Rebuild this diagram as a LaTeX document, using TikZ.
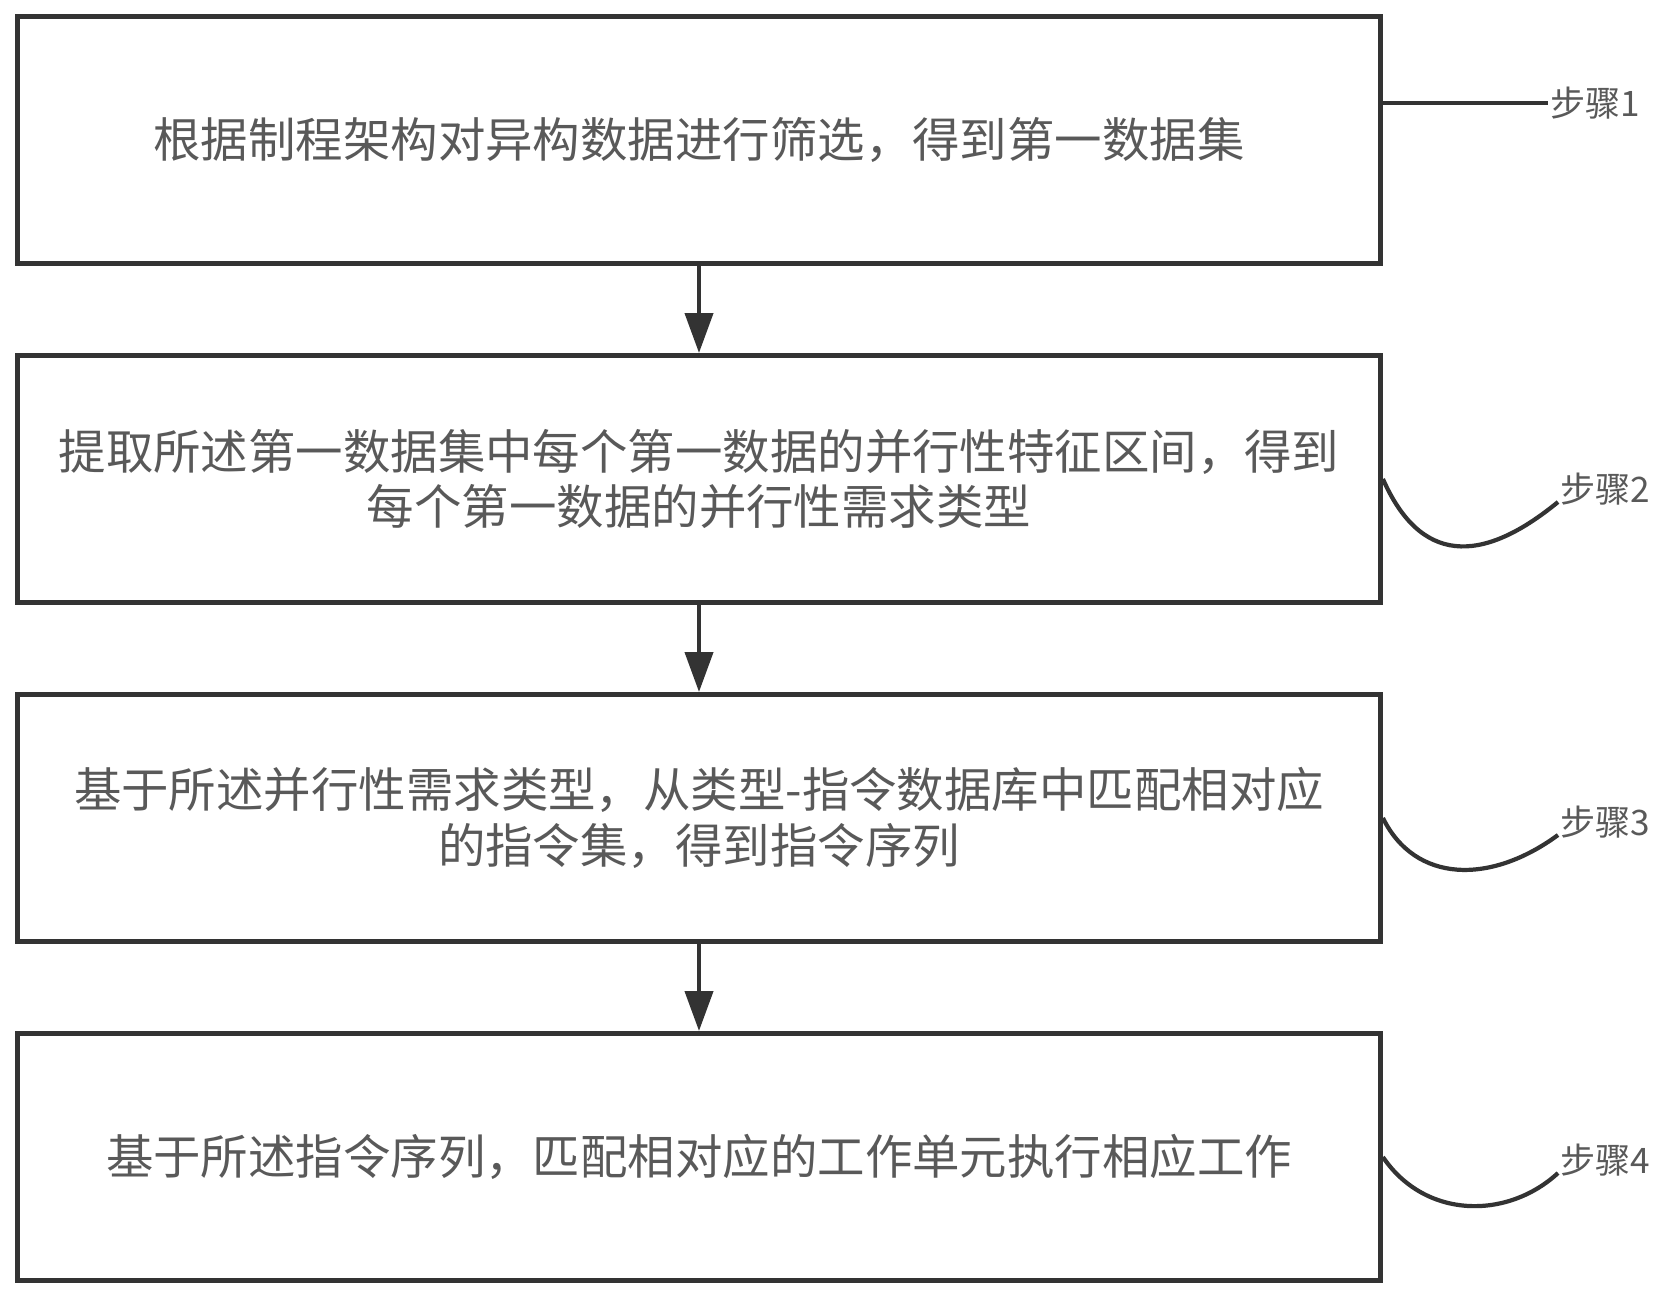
\documentclass[tikz,border=0pt]{standalone}
\usepackage{fontspec}
\newfontfamily\cjk{Noto Sans CJK SC}
\usetikzlibrary{positioning,arrows.meta}
\begin{document}
\begin{tikzpicture}[x=0.02cm, y=-0.02cm, node distance=1.74cm,
        box/.style={draw=black!80, line width=2.6pt, minimum width=27.27cm, minimum height=4.95cm,
            inner sep=0pt, align=center, text=black!65, font=\cjk\fontsize{27}{31.5}\selectfont},
        steplab/.style={text=black!65, font=\cjk\fontsize{20}{24}\selectfont, inner sep=1pt},
        link/.style={draw=black!80, line width=2.4pt}]
        \useasboundingbox (0, 0) rectangle (1675, 1297);

        \node[box] (b1) at (699, 140) {根据制程架构对异构数据进行筛选，得到第一数据集};
        \node[box, below=of b1] (b2) {提取所述第一数据集中每个第一数据的并行性特征区间，得到\\每个第一数据的并行性需求类型};
        \node[box, below=of b2] (b3) {基于所述并行性需求类型，从类型-指令数据库中匹配相对应\\的指令集，得到指令序列};
        \node[box, below=of b3] (b4) {基于所述指令序列，匹配相对应的工作单元执行相应工作};

        \foreach \a/\b in {b1/b2, b2/b3, b3/b4} {
            \draw[link, -{Triangle[length=0.8cm, width=0.56cm]}] (\a) -- (\b);
        }

        \node[steplab, anchor=west] (s1) at (1548, 103) {步骤1};
        \node[steplab, anchor=base west] (s2) at (1558, 502) {步骤2};
        \node[steplab, anchor=base west] (s3) at (1558, 835) {步骤3};
        \node[steplab, anchor=base west] (s4) at (1558, 1173) {步骤4};

        \draw[link] (b1.east |- s1.west) -- (s1.west);
        \draw[link] (b2.east) .. controls +(37, 84) and +(-78, 64) .. (s2.base west);
        \draw[link] (b3.east) .. controls +(32, 65) and +(-68, 50) .. (s3.base west);
        \draw[link] (b4.east) .. controls +(42, 62) and +(-51, 47) .. (s4.base west);
    \end{tikzpicture}
\end{document}
